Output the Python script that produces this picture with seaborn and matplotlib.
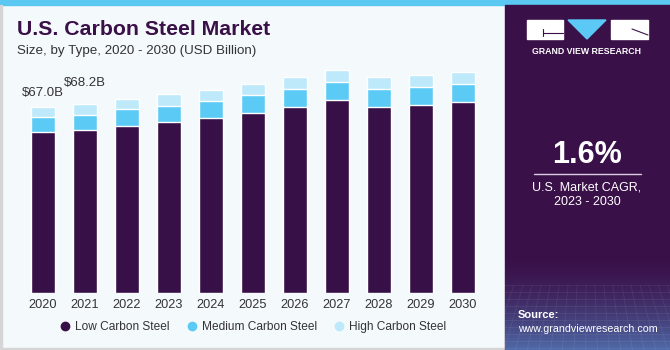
import numpy as np
import matplotlib
matplotlib.use("Agg")
import matplotlib.pyplot as plt
import seaborn as sns
from matplotlib.patches import Rectangle, Polygon
from matplotlib.lines import Line2D

years = ["2020", "2021", "2022", "2023", "2024", "2025", "2026", "2027", "2028", "2029", "2030"]
low_carbon = [58.1, 58.6, 60.2, 61.5, 63.1, 64.9, 67.0, 69.5, 66.9, 67.8, 68.7]
medium_carbon = [5.3, 5.7, 6.0, 6.0, 6.1, 6.5, 6.5, 6.5, 6.6, 6.5, 6.5]
high_carbon = [3.6, 3.9, 3.5, 4.0, 3.8, 3.8, 4.3, 4.3, 4.3, 4.3, 4.4]
series_names = ["Low Carbon Steel", "Medium Carbon Steel", "High Carbon Steel"]
labels = {"2020": "$67.0B", "2021": "$68.2B"}

c_low = "#371047"
c_med = "#5BCBF5"
c_high = "#BDE9FA"
purple = "#3A1048"
txt = "#333333"

sns.set_style("white")
plt.rcParams["font.family"] = ["Liberation Sans", "DejaVu Sans"]

fig = plt.figure(figsize=(6.7, 3.5), dpi=100)
fig.patch.set_facecolor("#F4F9FC")

# background decorations in pixel coords
bg = fig.add_axes([0, 0, 1, 1], zorder=-1)
bg.set_xlim(0, 670)
bg.set_ylim(350, 0)
bg.axis("off")
bg.add_patch(Rectangle((0, 0), 670, 5, color="#5BC8F2"))
bg.add_patch(Rectangle((0, 5), 1.5, 345, color="#D5D5D5"))
bg.add_patch(Rectangle((0, 347.5), 505, 2.5, color="#D5D5D5"))
bg.add_patch(Rectangle((505, 5), 165, 345, color=purple))
grad = np.linspace(0, 1, 100)[:, None]
top_c = np.array(matplotlib.colors.to_rgb(purple))
bot_c = np.array(matplotlib.colors.to_rgb("#4F6AA8"))
img = top_c[None, None, :] * (1 - grad[:, :, None] ** 1.6) + bot_c[None, None, :] * grad[:, :, None] ** 1.6
bg.imshow(img, extent=(505, 670, 350, 255), aspect="auto", zorder=1)
for yy in np.arange(285, 350, 7):
    bg.plot([505, 670], [yy, yy], color="white", alpha=0.07, lw=0.6, zorder=2)
for xx in np.arange(505, 670, 9):
    bg.plot([xx, xx + (xx - 587) * 0.3], [285, 350], color="white", alpha=0.07, lw=0.6, zorder=2)

# logo
bg.add_patch(Rectangle((527, 20), 36, 19, color="white", zorder=3))
bg.plot([543, 563], [32.5, 32.5], color=purple, lw=0.8, zorder=4)
bg.plot([543, 543], [29, 36], color=purple, lw=0.8, zorder=4)
bg.add_patch(Polygon([(568, 20), (606, 20), (587, 39)], color="#5BC8F5", zorder=3))
bg.add_patch(Rectangle((611, 20), 37, 19, color="white", zorder=3))
bg.plot([632, 648], [29, 35], color=purple, lw=0.8, zorder=4)
bg.text(587, 51, "GRAND VIEW RESEARCH", color="white", fontsize=6.3, fontweight="bold",
        ha="center", va="center", zorder=4)

bg.text(587, 155, "1.6%", color="white", fontsize=22, fontweight="bold", ha="center", va="center", zorder=4)
bg.plot([534, 641], [173.5, 173.5], color="#D8D0DE", lw=1, zorder=4)
bg.text(587, 187, "U.S. Market CAGR,", color="white", fontsize=9, ha="center", va="center", zorder=4)
bg.text(587, 202, "2023 - 2030", color="white", fontsize=9, ha="center", va="center", zorder=4)
bg.text(518, 315, "Source:", color="white", fontsize=8, fontweight="bold", ha="left", va="center", zorder=4)
bg.text(518, 329, "www.grandviewresearch.com", color="white", fontsize=7.7, ha="left", va="center", zorder=4)

bg.text(17, 35, "U.S. Carbon Steel Market", color=purple, fontsize=15.3, fontweight="bold",
        ha="left", va="baseline")
bg.text(17, 54, "Size, by Type, 2020 - 2030 (USD Billion)", color=txt, fontsize=9.6,
        ha="left", va="baseline")

# chart
ax = fig.add_axes([0.0325, 0.162, 0.6896, 0.715])
ax.set_facecolor("none")
low = np.array(low_carbon)
mid_top = low + np.array(medium_carbon)
total = mid_top + np.array(high_carbon)

sns.barplot(x=years, y=total, color=c_high, saturation=1, width=0.58, errorbar=None, ax=ax)
sns.barplot(x=years, y=mid_top, color=c_med, saturation=1, width=0.58, errorbar=None, ax=ax)
sns.barplot(x=years, y=low, color=c_low, saturation=1, width=0.58, errorbar=None, ax=ax)

for i, yr in enumerate(years):
    if yr in labels:
        off = 10 if i == 0 else 15
        ax.annotate(labels[yr], (i, total[i]), xytext=(0, off), textcoords="offset points",
                    ha="center", va="center", fontsize=9.5, color=txt)

ax.set_xlim(-0.5, len(years) - 0.5)
ax.set_ylim(0, 90)
ax.set_yticks([])
ax.set_xlabel("")
ax.set_ylabel("")
ax.tick_params(axis="x", length=0, pad=4, labelsize=9.2, labelcolor=txt)
sns.despine(ax=ax, left=True, bottom=True)

handles = [Line2D([], [], marker="o", linestyle="none", markersize=6, color=c)
           for c in [c_low, c_med, c_high]]
fig.legend(handles, series_names, loc="center", bbox_to_anchor=(0.378, 0.066), ncol=3,
           frameon=False, fontsize=8.6, handlelength=0.8, handletextpad=0.4,
           columnspacing=1.5, labelcolor=txt)

fig.savefig("out.png", dpi=100, facecolor=fig.get_facecolor())
